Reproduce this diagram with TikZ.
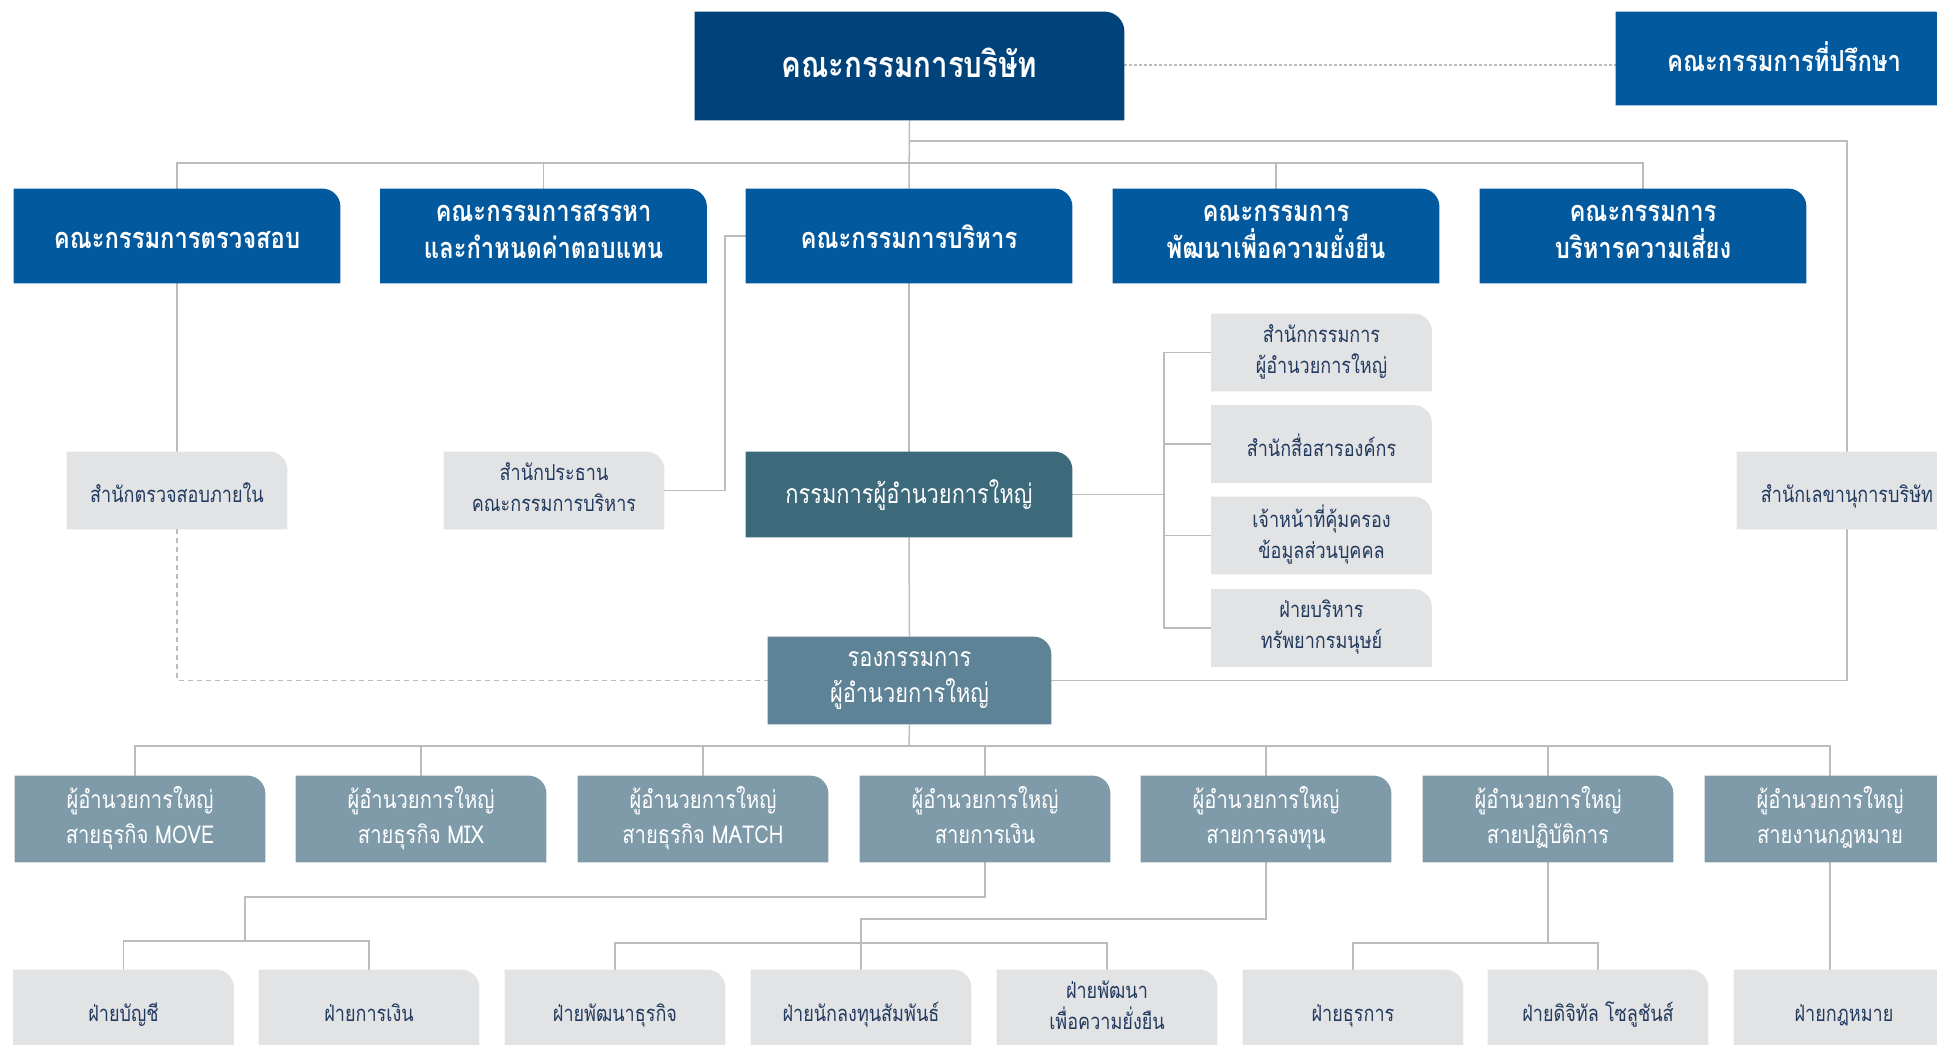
\documentclass[tikz,border=0pt]{standalone}
\usepackage{fontspec}
\newfontfamily\thai[Script=Thai,FakeStretch=0.82]{Loma}
\usetikzlibrary{backgrounds}
\definecolor{cboard}{HTML}{00427A}
\definecolor{cblue}{HTML}{02599E}
\definecolor{cceo}{HTML}{3C6A7B}
\definecolor{cvp}{HTML}{5F8396}
\definecolor{cmgr}{HTML}{7F9BAA}
\definecolor{cgray}{HTML}{E2E3E5}
\definecolor{cgtext}{HTML}{223A5E}
\definecolor{cline}{HTML}{BCBCBC}
\newcommand\tabfill[3][9]{\fill[#3] (#2.south west) -- (#2.north west) -- ([xshift=-#1pt]#2.north east) arc[start angle=90,end angle=0,radius=#1pt] -- (#2.south east) -- cycle;}
\newcommand\topstrut[1]{\rule{0pt}{#1\baselineskip}}
\newcommand\botstrut[1]{\rule[-#1\baselineskip]{0pt}{#1\baselineskip}}
\tikzset{
  base/.style 2 args={inner sep=0pt, align=center, anchor=center, execute at begin node={\topstrut{#1}}, execute at end node={\botstrut{#2}}},
  boardbox/.style={base={0.782}{0.25}, minimum width=214.5pt, minimum height=54pt, text=white, font=\thai\bfseries\fontsize{18}{22}\selectfont},
  l2box/.style={base={0.95}{0.25}, minimum width=163pt, minimum height=47pt, text=white, font=\thai\bfseries\fontsize{14.5}{18.5}\selectfont},
  advbox/.style={l2box, minimum width=168pt, minimum height=46.5pt},
  ceobox/.style={base={0.75}{0.25}, minimum width=163pt, minimum height=42.5pt, text=white, font=\thai\fontsize{13.3}{18}\selectfont},
  vpbox/.style={base={1.214}{0.18}, minimum width=141.5pt, minimum height=43.5pt, text=white, font=\thai\fontsize{13.3}{18}\selectfont},
  mgrbox/.style={base={1.2}{0.22}, minimum width=125pt, minimum height=43pt, text=white, font=\thai\fontsize{12.3}{17.5}\selectfont},
  graybox/.style={base={1.05}{0.25}, minimum width=110pt, minimum height=38.5pt, text=cgtext, font=\thai\fontsize{11}{15.5}\selectfont},
  divbox/.style={graybox, minimum height=39pt},
  conn/.style={draw=cline, line width=0.75pt},
}
\begin{document}
\begin{tikzpicture}[x=0.5pt,y=0.5pt]
\useasboundingbox (0,0) rectangle (1937,-1044);
\clip (0,0) rectangle (1937,-1044);
% top
\node[boardbox] (board) at (909.5,-66) {คณะกรรมการบริษัท};
\node[advbox] (adv) at (1784,-58.5) {คณะกรรมการที่ปรึกษา};
% level 2
\node[l2box] (audit) at (177,-236) {คณะกรรมการตรวจสอบ};
\node[l2box] (nom) at (543.5,-236) {คณะกรรมการสรรหา\\และกำหนดค่าตอบแทน};
\node[l2box] (exec) at (909,-236) {คณะกรรมการบริหาร};
\node[l2box] (sus) at (1276,-236) {คณะกรรมการ\\พัฒนาเพื่อความยั่งยืน};
\node[l2box] (risk) at (1643,-236) {คณะกรรมการ\\บริหารความเสี่ยง};
% offices
\node[graybox] (ia) at (177,-490.5) {สำนักตรวจสอบภายใน};
\node[graybox] (chair) at (554,-490.5) {สำนักประธาน\\คณะกรรมการบริหาร};
\node[ceobox] (ceo) at (909,-494.5) {กรรมการผู้อำนวยการใหญ่};
\node[graybox] (r1) at (1321.5,-352.5) {สำนักกรรมการ\\ผู้อำนวยการใหญ่};
\node[graybox] (r2) at (1321.5,-444) {สำนักสื่อสารองค์กร};
\node[graybox] (r3) at (1321.5,-535.5) {เจ้าหน้าที่คุ้มครอง\\ข้อมูลส่วนบุคคล};
\node[graybox] (r4) at (1321.5,-628) {ฝ่ายบริหาร\\ทรัพยากรมนุษย์};
\node[graybox] (sec) at (1847,-490.5) {สำนักเลขานุการบริษัท};
\node[vpbox] (vp) at (909.5,-680.5) {รองกรรมการ\\ผู้อำนวยการใหญ่};
% level 4
\node[mgrbox] (m1) at (140,-819) {ผู้อำนวยการใหญ่\\สายธุรกิจ MOVE};
\node[mgrbox] (m2) at (421,-819) {ผู้อำนวยการใหญ่\\สายธุรกิจ MIX};
\node[mgrbox] (m3) at (703,-819) {ผู้อำนวยการใหญ่\\สายธุรกิจ MATCH};
\node[mgrbox] (m4) at (985,-819) {ผู้อำนวยการใหญ่\\สายการเงิน};
\node[mgrbox] (m5) at (1266,-819) {ผู้อำนวยการใหญ่\\สายการลงทุน};
\node[mgrbox] (m6) at (1548,-819) {ผู้อำนวยการใหญ่\\สายปฏิบัติการ};
\node[mgrbox] (m7) at (1830,-819) {ผู้อำนวยการใหญ่\\สายงานกฎหมาย};
% level 5
\node[divbox] (d1) at (123.5,-1009) {ฝ่ายบัญชี};
\node[divbox] (d2) at (369,-1009) {ฝ่ายการเงิน};
\node[divbox] (d3) at (615,-1009) {ฝ่ายพัฒนาธุรกิจ};
\node[divbox] (d4) at (861,-1009) {ฝ่ายนักลงทุนสัมพันธ์};
\node[divbox] (d5) at (1107,-1009) {ฝ่ายพัฒนา\\เพื่อความยั่งยืน};
\node[divbox] (d6) at (1353,-1009) {ฝ่ายธุรการ};
\node[divbox] (d7) at (1598,-1009) {ฝ่ายดิจิทัล โซลูชันส์};
\node[divbox] (d8) at (1844,-1009) {ฝ่ายกฎหมาย};
% junctions
\coordinate (j1) at (909,-163);
\coordinate (j2) at (909,-141);
\coordinate (cj) at (725,-237);
\coordinate (bus) at (1164,-494.5);
\coordinate (vb) at (909,-746);
\coordinate (m1top) at (135,-776);
\coordinate (fa) at (245,-897);
\coordinate (fb) at (245,-941);
\coordinate (ja) at (861,-919);
\coordinate (jb) at (861,-943);
\coordinate (ob) at (1548,-943);
\begin{scope}[on background layer]
  % connectors
  \draw[conn] (board.south) -- (exec.north);
  \draw[conn] (audit.north) -- (audit.north |- j1) -- (risk.north |- j1) -- (risk.north);
  \draw[conn] (nom.north) -- (nom.north |- j1);
  \draw[conn] (sus.north) -- (sus.north |- j1);
  \draw[conn] (j2) -| (sec.center) |- (vp.east);
  \draw[conn, dash pattern=on 1.5pt off 1pt, line width=0.6pt] (board.east |- 0,-65) -- (adv.west |- 0,-65);
  \draw[conn] (audit.south) -- (ia.north);
  \draw[conn, dash pattern=on 2.5pt off 2pt] (ia.south) |- (vp.west);
  \draw[conn] (exec.south) -- (ceo.north);
  \draw[conn] (ceo.south) -- (vp.north);
  \draw[conn] (chair.east) -| (cj) |- (exec.west);
  \draw[conn] (ceo.east) -- (bus);
  \draw[conn] (r1.west) -| (bus) |- (r4.west);
  \draw[conn] (r2.west) -- (r2.west -| bus);
  \draw[conn] (r3.west) -- (r3.west -| bus);
  \draw[conn] (vp.south) -- (vb);
  \draw[conn] (m1top) -- (m1top |- vb) -- (m7.north |- vb) -- (m7.north);
  \foreach \m in {m2,m3,m4,m5,m6} { \draw[conn] (\m.north) -- (\m.north |- vb); }
  \draw[conn] (m4.south) |- (fa) -- (fb);
  \draw[conn] (d1.north) |- (fb) -| (d2.north);
  \draw[conn] (m5.south) |- (ja) -- (d4.north);
  \draw[conn] (d3.north) |- (jb) -| (d5.north);
  \draw[conn] (m6.south) -- (ob);
  \draw[conn] (d6.north) |- (ob) -| (d7.north);
  \draw[conn] (m7.south) -- (m7.south |- d8.north);
  % fills
  \tabfill[10]{board}{cboard}
  \tabfill{adv}{cblue}
  \foreach \n in {audit,nom,exec,sus,risk} { \tabfill{\n}{cblue} }
  \tabfill{ceo}{cceo}
  \tabfill{vp}{cvp}
  \foreach \n in {m1,m2,m3,m4,m5,m6,m7} { \tabfill{\n}{cmgr} }
  \foreach \n in {ia,chair,r1,r2,r3,r4,sec,d1,d2,d3,d4,d5,d6,d7,d8} { \tabfill{\n}{cgray} }
\end{scope}
\end{tikzpicture}
\end{document}
